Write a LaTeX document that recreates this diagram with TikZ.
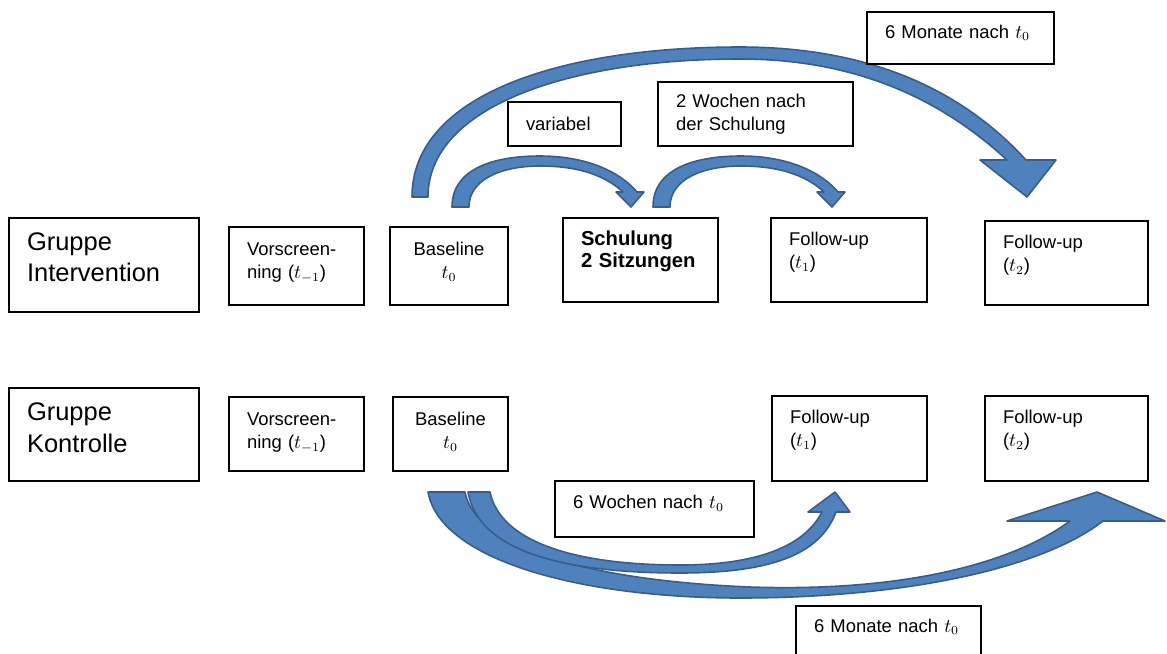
\documentclass[tikz,border=0pt]{standalone}
\usepackage{fontspec}
\setmainfont{Liberation Sans}
\definecolor{arrowfill}{RGB}{79,129,189}
\definecolor{arrowline}{RGB}{56,93,138}

\begin{document}
\begin{tikzpicture}[x=0.02cm, y=-0.02cm,
    box/.style={draw, line width=0.8pt, fill=white, rectangle, align=left,
      inner xsep=0.36cm, inner ysep=0pt, font=\fontsize{10.5}{13.3}\selectfont},
    lift/.style={text height=0pt, text depth=#1},
    group/.style={font=\fontsize{14.5}{18}\selectfont},
    blockarrow/.style={fill=arrowfill, draw=arrowline, line width=0.9pt, line join=round}]
	\useasboundingbox (0,0) rectangle (1167,653);

	% curved arrows above the intervention row
	\filldraw[blockarrow] (412,197) .. controls (412,95) and (560,47) .. (740,47)
		.. controls (870,47) and (962,90) .. (1026,160) -- (1056,160) -- (1027,197) -- (980,160) -- (1007,160)
		.. controls (944,102) and (860,59) .. (740,59) .. controls (568,59) and (428,107) .. (428,197) -- cycle;
	\foreach \dx in {0,201}
		\filldraw[blockarrow, shift={(\dx,0)}] (452,207) .. controls (452,168) and (495,156) .. (540,156)
			.. controls (590,156) and (622,174) .. (637,192) -- (644,192) -- (631,207) -- (616,192) -- (623,192)
			.. controls (609,179) and (585,166) .. (540,166) .. controls (502,166) and (469,179) .. (469,207) -- cycle;

	% curved arrows below the control row
	\filldraw[blockarrow] (428,492) .. controls (440,560) and (580,598) .. (740,598)
		.. controls (900,598) and (1040,570) .. (1103,521) -- (1165,521) -- (1097,492) -- (1007,521) -- (1070,521)
		.. controls (1010,565) and (900,592) .. (750,587) .. controls (580,580) and (475,545) .. (465,492) -- cycle;
	\filldraw[blockarrow] (468,492) .. controls (478,550) and (560,573) .. (680,573)
		.. controls (770,573) and (820,555) .. (836,512) -- (850,512) -- (835,492) -- (808,512) -- (822,512)
		.. controls (805,545) and (760,565) .. (680,565) .. controls (570,565) and (500,540) .. (490,492) -- cycle;

	% intervention group
	\node[box, group, lift=17pt, text width=3.08cm, minimum height=1.88cm] (grpI) at (104,265) {Gruppe\\Intervention};
	\node[box, lift=12pt, text width=1.98cm, minimum height=1.56cm] (vor1) at (296.5,266) {Vorscreen-\\ning ($t_{-1}$)};
	\node[box, lift=12pt, text width=1.64cm, minimum height=1.56cm, align=center] (base1) at (449,266) {Baseline\\$t_0$};
	\node[box, lift=17pt, text width=2.38cm, minimum height=1.68cm, font=\fontsize{11.5}{13}\selectfont\bfseries] (sch) at (640.5,260) {Schulung\\2 Sitzungen};
	\node[box, lift=17pt, text width=2.4cm, minimum height=1.68cm] (fu1i) at (849,260) {Follow-up\\($t_1$)};
	\node[box, lift=17pt, text width=2.54cm, minimum height=1.68cm] (fu2i) at (1066.5,263) {Follow-up\\($t_2$)};

	% control group
	\node[box, group, lift=16pt, text width=3.08cm, minimum height=1.86cm] (grpK) at (104,434.5) {Gruppe\\Kontrolle};
	\node[box, lift=10pt, text width=1.98cm, minimum height=1.48cm] (vor2) at (296.5,434) {Vorscreen-\\ning ($t_{-1}$)};
	\node[box, lift=10pt, text width=1.58cm, minimum height=1.48cm, align=center] (base2) at (450.5,434) {Baseline\\$t_0$};
	\node[box, lift=17pt, text width=2.38cm, minimum height=1.7cm] (fu1k) at (849.5,438.5) {Follow-up\\($t_1$)};
	\node[box, lift=17pt, text width=2.54cm, minimum height=1.7cm] (fu2k) at (1066.5,438.5) {Follow-up\\($t_2$)};

	% interval labels
	\node[box, lift=0pt, text width=3.02cm, minimum height=1.04cm] (mon6i) at (960.5,38) {6 Monate nach $t_0$};
	\node[box, text width=1.54cm, minimum height=0.88cm] (var) at (564.5,124) {variabel};
	\node[box, text width=3.18cm, minimum height=1.28cm] (wo2) at (755.5,114) {2 Wochen nach\\der Schulung};
	\node[box, lift=1pt, text width=3.26cm, minimum height=1.12cm] (wo6) at (654.5,509) {6 Wochen nach $t_0$};
	\node[box, lift=0pt, text width=2.98cm, minimum height=1.04cm] (mon6k) at (888.5,632) {6 Monate nach $t_0$};
\end{tikzpicture}
\end{document}
